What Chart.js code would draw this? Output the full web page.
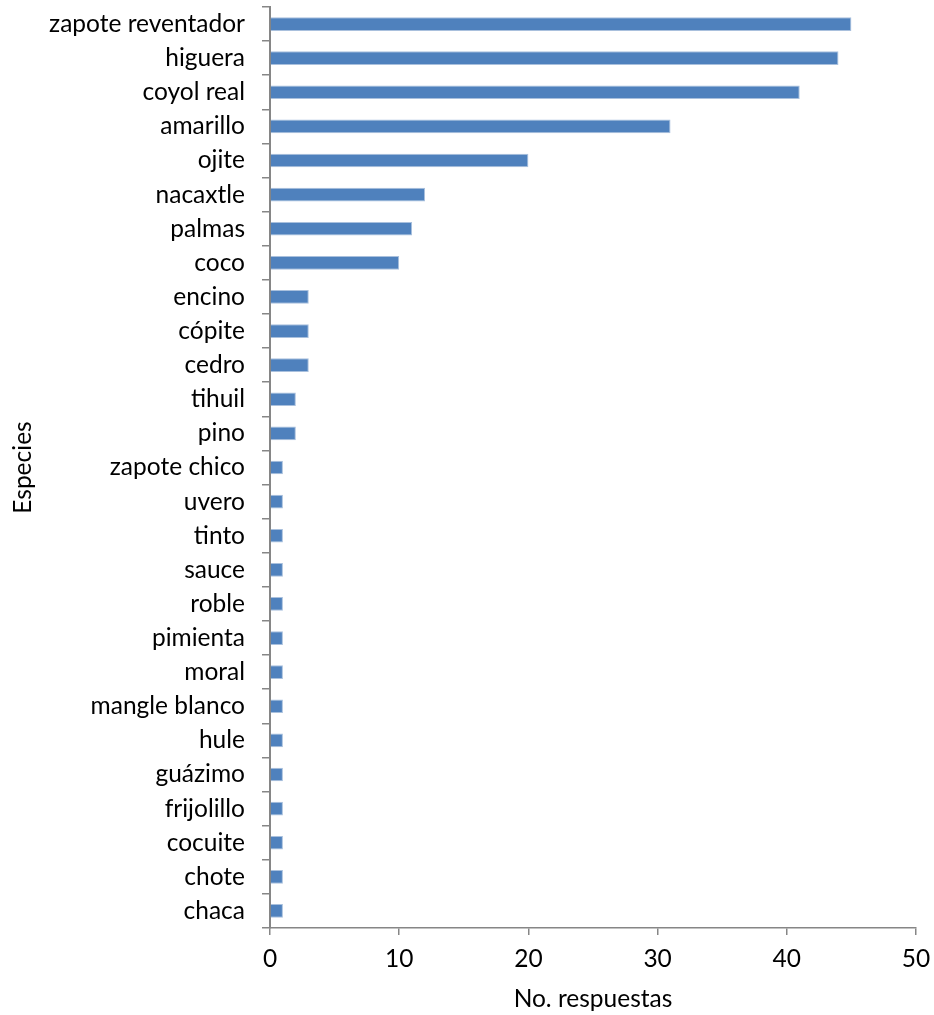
<!DOCTYPE html>
<html>
<head>
<meta charset="utf-8">
<script src="https://cdn.jsdelivr.net/npm/chart.js@4/dist/chart.umd.min.js"></script>
<style>
html,body{margin:0;padding:0;background:#fff;}
#wrap{width:934px;height:1015px;position:relative;}
</style>
</head>
<body>
<div id="wrap"><canvas id="c" width="934" height="1015"></canvas></div>
<script>
const categories = ["zapote reventador","higuera","coyol real","amarillo","ojite","nacaxtle","palmas","coco","encino","cópite","cedro","tihuil","pino","zapote chico","uvero","tinto","sauce","roble","pimienta","moral","mangle blanco","hule","guázimo","frijolillo","cocuite","chote","chaca"];
const responses = [45,44,41,31,20,12,11,10,3,3,3,2,2,1,1,1,1,1,1,1,1,1,1,1,1,1,1];
const xTicks = [0,10,20,30,40,50];
const xTitle = "No. respuestas";
const yTitle = "Especies";

const FONT = "Lato, 'Open Sans', sans-serif";
const FSIZE = 24.5;
const axisGray = "#868686";

new Chart(document.getElementById('c'), {
  type: 'bar',
  data: {
    labels: categories,
    datasets: [{
      data: responses,
      backgroundColor: '#4F81BD',
      borderColor: '#A9C0DD',
      borderWidth: {top:1, right:1, bottom:1, left:0},
      borderSkipped: 'left',
      categoryPercentage: 1,
      barPercentage: 0.4
    }]
  },
  options: {
    indexAxis: 'y',
    responsive: false,
    animation: false,
    devicePixelRatio: 1,
    layout: { padding: { top: 7, right: 18, bottom: 0, left: 0 } },
    plugins: { legend: { display: false }, tooltip: { enabled: false } },
    scales: {
      x: {
        min: 0, max: 50,
        afterBuildTicks: (s) => { s.ticks = xTicks.map(v => ({ value: v })); },
        afterFit: (s) => { s.height = 87; s.paddingLeft = 0; s.paddingRight = 0; },
        grid: { drawOnChartArea: false, drawTicks: true, tickLength: 7, color: axisGray, lineWidth: 1.5 },
        border: { color: axisGray, width: 1.5 },
        ticks: { font: { family: FONT, size: FSIZE }, color: '#000', padding: 9 },
        title: { display: true, text: xTitle, font: { family: FONT, size: FSIZE }, color: '#000', padding: { top: 0, bottom: 1 } }
      },
      y: {
        afterFit: (s) => { s.width = 270; s.paddingTop = 0; s.paddingBottom = 0; },
        grid: { drawOnChartArea: false, drawTicks: true, tickLength: 8, color: axisGray, lineWidth: 1.5, offset: true },
        border: { color: axisGray, width: 2 },
        ticks: { font: { family: FONT, size: FSIZE }, color: '#000', padding: 17, autoSkip: false },
        title: { display: true, text: yTitle, font: { family: FONT, size: FSIZE }, color: '#000', padding: { top: 8, bottom: 0 } }
      }
    }
  }
});
</script>
</body>
</html>
